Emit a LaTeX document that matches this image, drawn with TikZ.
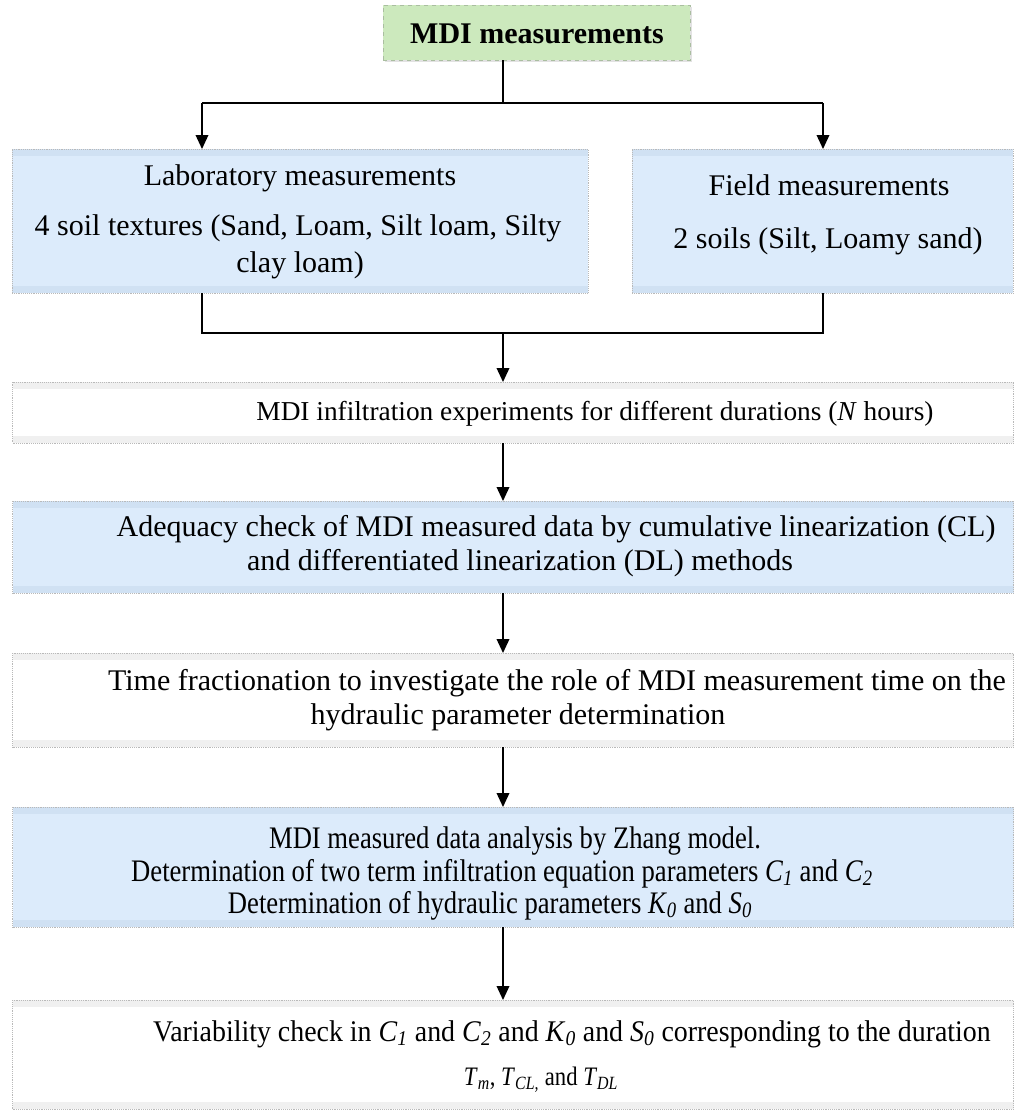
\documentclass[tikz,border=0pt]{standalone}
\usepackage{fontspec}
\setmainfont{Liberation Serif}
\newfontfamily\narrowserif[FakeStretch=0.85]{Liberation Serif}
\newfontfamily\slimserif[FakeStretch=0.93]{Liberation Serif}
\usetikzlibrary{arrows.meta,shadows}
\definecolor{boxgreen}{RGB}{204,233,189}
\definecolor{edgegreen}{RGB}{170,190,160}
\definecolor{boxblue}{RGB}{220,235,251}
\definecolor{bandblue}{RGB}{208,225,243}
\definecolor{bandgray}{RGB}{240,240,240}
\definecolor{edgegray}{RGB}{185,185,185}
\newcommand{\param}[2]{\textit{#1}\textsubscript{\textit{#2}}}

\begin{document}
\begin{tikzpicture}[x=0.75pt,y=-0.75pt,font=\fontsize{22.5}{27}\selectfont,
   box/.style={draw=edgegray,densely dotted,inner sep=0pt,outer sep=0pt},
   band/.style={path picture={
      \fill[#1] (path picture bounding box.north west) rectangle ([yshift=-5.5pt]path picture bounding box.north east);
      \fill[#1] (path picture bounding box.south west) rectangle ([yshift=5.5pt]path picture bounding box.south east);}},
   bluebox/.style={box,fill=boxblue,band=bandblue},
   whitebox/.style={box,fill=white,band=bandgray},
   txt/.style={inner sep=0pt,anchor=base},
   arr/.style={-{Triangle[length=10.5pt,width=9.5pt]},line width=1.1pt}]
  \useasboundingbox (0,0) rectangle (1016,1110);
  % boxes
  \node[draw=edgegreen,dashed,fill=boxgreen,inner sep=0pt,outer sep=0pt,
        minimum width=230.25pt,minimum height=41.25pt,
        drop shadow={shadow xshift=1.5pt,shadow yshift=-1.5pt,fill=gray!45}] (top) at (536.5,32.5) {};
  \node[bluebox,minimum width=432pt,minimum height=108pt] (lab) at (300,221) {};
  \node[bluebox,minimum width=285.75pt,minimum height=108pt] (fld) at (822.5,221) {};
  \node[whitebox,minimum width=750.75pt,minimum height=45.75pt] (infl) at (513,412.5) {};
  \node[bluebox,minimum width=750.75pt,minimum height=69pt] (adeq) at (513,547) {};
  \node[whitebox,minimum width=750.75pt,minimum height=70.5pt] (frac) at (513,700) {};
  \node[bluebox,minimum width=750.75pt,minimum height=90pt] (zhang) at (513,867) {};
  \node[whitebox,minimum width=750.75pt,minimum height=81.75pt] (vari) at (513,1054.5) {};
  % texts
  \node[txt,font=\fontsize{22.5}{27}\selectfont\bfseries] (toptxt) at (537,43) {MDI measurements};
  \node[txt] (labttl) at (300,185) {Laboratory measurements};
  \node[txt] (labtxt1) at (298,235) {4 soil textures (Sand, Loam, Silt loam, Silty};
  \node[txt] (labtxt2) at (300,272) {clay loam)};
  \node[txt] (fldttl) at (829,195) {Field measurements};
  \node[txt] (fldtxt) at (828,248) {2 soils (Silt, Loamy sand)};
  \node[txt,font=\fontsize{20.5}{25}\selectfont] (infltxt) at (595,420) {MDI infiltration experiments for different durations (\textit{N} hours)};
  \node[txt] (adeqtxt1) at (556,536) {Adequacy check of MDI measured data by cumulative linearization (CL)};
  \node[txt] (adeqtxt2) at (520,570) {and differentiated linearization (DL) methods};
  \node[txt] (fractxt1) at (557,690) {Time fractionation to investigate the role of MDI measurement time on the};
  \node[txt] (fractxt2) at (518,724) {hydraulic parameter determination};
  \begin{scope}[font=\fontsize{23.5}{28}\narrowserif]
    \node[txt] (zhangtxt1) at (515,848) {MDI measured data analysis by Zhang model.};
    \node[txt] (zhangtxt2) at (502,881) {Determination of two term infiltration equation parameters \param{C}{1} and \param{C}{2}};
    \node[txt] (zhangtxt3) at (490,913) {Determination of hydraulic parameters \param{K}{0} and \param{S}{0}};
  \end{scope}
  \node[txt,font=\fontsize{22.5}{27}\slimserif] (varitxt1) at (572,1041) {Variability check in \param{C}{1} and \param{C}{2} and \param{K}{0} and \param{S}{0} corresponding to the duration};
  \node[txt,font=\fontsize{20}{24}\narrowserif] (varitxt2) at (541,1085) {\param{T}{m}, \param{T}{CL,} and \param{T}{DL}};
  % connectors
  \coordinate (sp) at (503,103);
  \coordinate (sl) at (202,103);
  \coordinate (sr) at (823,103);
  \coordinate (ml) at (202,333);
  \coordinate (mr) at (823,333);
  \coordinate (mg) at (503,333);
  \draw[line width=1.1pt] (top.south -| sp) -- (sp);
  \draw[line width=1.1pt] (sl) -- (sr);
  \draw[arr] (sl) -- (sl |- lab.north);
  \draw[arr] (sr) -- (sr |- fld.north);
  \draw[line width=1.1pt] (lab.south -| ml) -- (ml) -- (mr) -- (fld.south -| mr);
  \draw[arr] (mg) -- (mg |- infl.north);
  \foreach \a/\b in {infl/adeq,adeq/frac,frac/zhang,zhang/vari}
    \draw[arr] (\a.south -| mg) -- (\b.north -| mg);
\end{tikzpicture}
\end{document}
